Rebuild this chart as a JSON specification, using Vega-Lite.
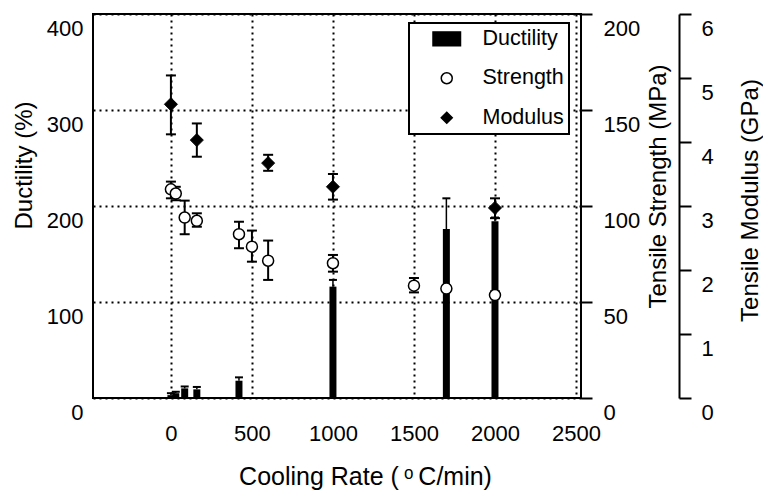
{
  "$schema": "https://vega.github.io/schema/vega-lite/v6.json",
  "width": 488,
  "height": 384,
  "autosize": {"type": "none"},
  "padding": {"left": 93, "top": 14, "right": 182, "bottom": 96},
  "background": "white",
  "config": {
    "font": "Liberation Sans",
    "view": {"stroke": "black", "strokeWidth": 2},
    "axis": {
      "labelFont": "Liberation Sans", "labelFontSize": 22, "labelColor": "black",
      "titleFont": "Liberation Sans", "titleFontSize": 24, "titleFontWeight": "normal", "titleColor": "black",
      "tickColor": "black", "tickWidth": 2, "domainColor": "black", "domainWidth": 2,
      "gridColor": "black", "gridDash": [2, 4], "gridWidth": 2, "gridOpacity": 1,
      "labelFlush": false, "labelOverlap": false
    },
    "legend": {"strokeWidth": 2}
  },
  "datasets": {
    "duct": [
      {"rate": 0, "v": 3, "hi": 5},
      {"rate": 30, "v": 5, "hi": 6.5},
      {"rate": 85, "v": 10, "hi": 12},
      {"rate": 160, "v": 9, "hi": 11.5},
      {"rate": 420, "v": 18, "hi": 21.5},
      {"rate": 1000, "v": 116, "hi": 123},
      {"rate": 1700, "v": 176, "hi": 208},
      {"rate": 2000, "v": 184, "hi": 188}
    ],
    "str": [
      {"rate": 0, "v": 108.7, "lo": 104, "hi": 112.7},
      {"rate": 30, "v": 106.5, "lo": 103, "hi": 110},
      {"rate": 85, "v": 94, "lo": 85.3, "hi": 102.8},
      {"rate": 160, "v": 92.3, "lo": 89.2, "hi": 96.2},
      {"rate": 420, "v": 85.3, "lo": 78, "hi": 91.8},
      {"rate": 500, "v": 78.8, "lo": 71, "hi": 87.2},
      {"rate": 600, "v": 71.5, "lo": 61.5, "hi": 82},
      {"rate": 1000, "v": 70.2, "lo": 65.8, "hi": 74.5},
      {"rate": 1500, "v": 58.5, "lo": 55, "hi": 62.5},
      {"rate": 1700, "v": 57, "lo": null, "hi": null},
      {"rate": 2000, "v": 53.6, "lo": 52, "hi": 55.5}
    ],
    "mod": [
      {"rate": 0, "v": 4.59, "lo": 4.12, "hi": 5.04},
      {"rate": 160, "v": 4.03, "lo": 3.77, "hi": 4.29},
      {"rate": 600, "v": 3.67, "lo": 3.55, "hi": 3.8},
      {"rate": 1000, "v": 3.3, "lo": 3.1, "hi": 3.5},
      {"rate": 2000, "v": 2.97, "lo": 2.81, "hi": 3.12}
    ]
  },
  "encoding": {
    "x": {
      "field": "rate", "type": "quantitative",
      "scale": {"domain": [-450, 2500], "nice": false, "zero": false},
      "axis": {
        "values": [0, 500, 1000, 1500, 2000, 2500], "format": "d", "grid": true, "domain": false, "ticks": false,
        "labelPadding": 25,
        "title": "Cooling Rate (\u2009ᵒ\u2009C/min)", "titleX": 272, "titleY": 86, "titleFontSize": 25,
        "titleBaseline": "alphabetic", "titleAlign": "center"
      }
    }
  },
  "layer": [
    {
      "data": {"name": "duct"},
      "layer": [
        {
          "mark": {"type": "bar", "size": 7, "color": "black"},
          "encoding": {
            "y": {"field": "v", "type": "quantitative", "scale": {"domain": [0, 400], "nice": false},
              "axis": {"orient": "left", "values": [0, 100, 200, 300, 400], "grid": true, "domain": false, "ticks": false,
                "labelPadding": 10, "labelOffset": 14, "title": "Ductility (%)", "titleAngle": 270,
                "titleX": -69, "titleY": 151, "titleAlign": "center", "titleBaseline": "middle"}}
          }
        },
        {
          "mark": {"type": "rule", "color": "black", "strokeWidth": 1.5},
          "encoding": {
            "y": {"field": "v", "type": "quantitative", "scale": {"domain": [0, 400], "nice": false},
              "axis": {"orient": "left", "values": [0, 100, 200, 300, 400], "grid": true, "domain": false, "ticks": false,
                "labelPadding": 10, "labelOffset": 14, "title": "Ductility (%)", "titleAngle": 270,
                "titleX": -69, "titleY": 151, "titleAlign": "center", "titleBaseline": "middle"}},
            "y2": {"field": "hi"}
          }
        },
        {
          "mark": {"type": "tick", "orient": "horizontal", "color": "black", "size": 8, "thickness": 2, "opacity": 1},
          "encoding": {
            "y": {"field": "hi", "type": "quantitative", "scale": {"domain": [0, 400], "nice": false},
              "axis": {"orient": "left", "values": [0, 100, 200, 300, 400], "grid": true, "domain": false, "ticks": false,
                "labelPadding": 10, "labelOffset": 14, "title": "Ductility (%)", "titleAngle": 270,
                "titleX": -69, "titleY": 151, "titleAlign": "center", "titleBaseline": "middle"}}
          }
        }
      ]
    },
    {
      "data": {"name": "str"},
      "layer": [
        {
          "transform": [{"filter": "datum.lo != null"}],
          "mark": {"type": "rule", "color": "black", "strokeWidth": 2},
          "encoding": {
            "y": {"field": "lo", "type": "quantitative", "scale": {"domain": [0, 200], "nice": false},
              "axis": {"orient": "right", "values": [0, 50, 100, 150, 200], "grid": false, "domain": false, "ticks": true, "tickSize": 11,
                "labelPadding": 11, "labelOffset": 14, "title": "Tensile Strength (MPa)", "titleAngle": 270,
                "titleX": 77, "titleY": 172, "titleAlign": "center", "titleBaseline": "middle"}},
            "y2": {"field": "hi"}
          }
        },
        {
          "transform": [{"filter": "datum.lo != null"}],
          "mark": {"type": "tick", "orient": "horizontal", "color": "black", "size": 10, "thickness": 2, "opacity": 1},
          "encoding": {
            "y": {"field": "lo", "type": "quantitative", "scale": {"domain": [0, 200], "nice": false},
              "axis": {"orient": "right", "values": [0, 50, 100, 150, 200], "grid": false, "domain": false, "ticks": true, "tickSize": 11,
                "labelPadding": 11, "labelOffset": 14, "title": "Tensile Strength (MPa)", "titleAngle": 270,
                "titleX": 77, "titleY": 172, "titleAlign": "center", "titleBaseline": "middle"}}
          }
        },
        {
          "transform": [{"filter": "datum.lo != null"}],
          "mark": {"type": "tick", "orient": "horizontal", "color": "black", "size": 10, "thickness": 2, "opacity": 1},
          "encoding": {
            "y": {"field": "hi", "type": "quantitative", "scale": {"domain": [0, 200], "nice": false},
              "axis": {"orient": "right", "values": [0, 50, 100, 150, 200], "grid": false, "domain": false, "ticks": true, "tickSize": 11,
                "labelPadding": 11, "labelOffset": 14, "title": "Tensile Strength (MPa)", "titleAngle": 270,
                "titleX": 77, "titleY": 172, "titleAlign": "center", "titleBaseline": "middle"}}
          }
        },
        {
          "mark": {"type": "point", "filled": true, "size": 121, "stroke": "black", "strokeWidth": 1.5, "opacity": 1},
          "encoding": {
            "y": {"field": "v", "type": "quantitative", "scale": {"domain": [0, 200], "nice": false},
              "axis": {"orient": "right", "values": [0, 50, 100, 150, 200], "grid": false, "domain": false, "ticks": true, "tickSize": 11,
                "labelPadding": 11, "labelOffset": 14, "title": "Tensile Strength (MPa)", "titleAngle": 270,
                "titleX": 77, "titleY": 172, "titleAlign": "center", "titleBaseline": "middle"}},
            "shape": {"datum": "Strength", "type": "nominal",
              "scale": {"domain": ["Ductility", "Strength", "Modulus"], "range": ["M-2.5,-1.25H2.5V1.25H-2.5Z", "circle", "diamond"]},
              "legend": {"orient": "none", "legendX": 316, "legendY": 9, "title": null, "padding": 5,
                "strokeColor": "black", "fillColor": "white", "symbolSize": 121, "symbolStrokeColor": "black",
                "symbolStrokeWidth": 1.5, "symbolOpacity": 1, "labelFontSize": 21.5, "labelFont": "Liberation Sans", "labelColor": "black",
                "rowPadding": 16.5, "symbolOffset": 22, "labelOffset": 25, "labelExpr": "datum.label + '\u00a0\u00a0'",
                "encode": {"symbols": {"update": {"stroke": {"value": "black"}, "strokeWidth": {"value": 1.5}, "opacity": {"value": 1}}}}}},
            "fill": {"datum": "Strength", "type": "nominal",
              "scale": {"domain": ["Ductility", "Strength", "Modulus"], "range": ["black", "white", "black"]},
              "legend": {"orient": "none", "legendX": 316, "legendY": 9, "title": null, "padding": 5,
                "strokeColor": "black", "fillColor": "white", "symbolSize": 121, "symbolStrokeColor": "black",
                "symbolStrokeWidth": 1.5, "symbolOpacity": 1, "labelFontSize": 21.5, "labelFont": "Liberation Sans", "labelColor": "black",
                "rowPadding": 16.5, "symbolOffset": 22, "labelOffset": 25, "labelExpr": "datum.label + '\u00a0\u00a0'",
                "encode": {"symbols": {"update": {"stroke": {"value": "black"}, "strokeWidth": {"value": 1.5}, "opacity": {"value": 1}}}}}}
          }
        }
      ]
    },
    {
      "data": {"name": "mod"},
      "layer": [
        {
          "mark": {"type": "rule", "color": "black", "strokeWidth": 2},
          "encoding": {
            "y": {"field": "lo", "type": "quantitative", "scale": {"domain": [0, 6], "nice": false},
              "axis": {"orient": "right", "offset": 98, "values": [0, 1, 2, 3, 4, 5, 6], "grid": false, "domain": true, "ticks": true, "tickSize": 12,
                "labelPadding": 10, "labelOffset": 14, "title": "Tensile Modulus (GPa)", "titleAngle": 270,
                "titleX": 71, "titleY": 186, "titleAlign": "center", "titleBaseline": "middle"}},
            "y2": {"field": "hi"}
          }
        },
        {
          "mark": {"type": "tick", "orient": "horizontal", "color": "black", "size": 10, "thickness": 2, "opacity": 1},
          "encoding": {
            "y": {"field": "lo", "type": "quantitative", "scale": {"domain": [0, 6], "nice": false},
              "axis": {"orient": "right", "offset": 98, "values": [0, 1, 2, 3, 4, 5, 6], "grid": false, "domain": true, "ticks": true, "tickSize": 12,
                "labelPadding": 10, "labelOffset": 14, "title": "Tensile Modulus (GPa)", "titleAngle": 270,
                "titleX": 71, "titleY": 186, "titleAlign": "center", "titleBaseline": "middle"}}
          }
        },
        {
          "mark": {"type": "tick", "orient": "horizontal", "color": "black", "size": 10, "thickness": 2, "opacity": 1},
          "encoding": {
            "y": {"field": "hi", "type": "quantitative", "scale": {"domain": [0, 6], "nice": false},
              "axis": {"orient": "right", "offset": 98, "values": [0, 1, 2, 3, 4, 5, 6], "grid": false, "domain": true, "ticks": true, "tickSize": 12,
                "labelPadding": 10, "labelOffset": 14, "title": "Tensile Modulus (GPa)", "titleAngle": 270,
                "titleX": 71, "titleY": 186, "titleAlign": "center", "titleBaseline": "middle"}}
          }
        },
        {
          "mark": {"type": "point", "filled": true, "size": 169, "stroke": "black", "strokeWidth": 1, "opacity": 1},
          "encoding": {
            "y": {"field": "v", "type": "quantitative", "scale": {"domain": [0, 6], "nice": false},
              "axis": {"orient": "right", "offset": 98, "values": [0, 1, 2, 3, 4, 5, 6], "grid": false, "domain": true, "ticks": true, "tickSize": 12,
                "labelPadding": 10, "labelOffset": 14, "title": "Tensile Modulus (GPa)", "titleAngle": 270,
                "titleX": 71, "titleY": 186, "titleAlign": "center", "titleBaseline": "middle"}},
            "shape": {"datum": "Modulus", "type": "nominal"},
            "fill": {"datum": "Modulus", "type": "nominal"}
          }
        }
      ]
    }
  ],
  "resolve": {"scale": {"y": "independent"}}
}
